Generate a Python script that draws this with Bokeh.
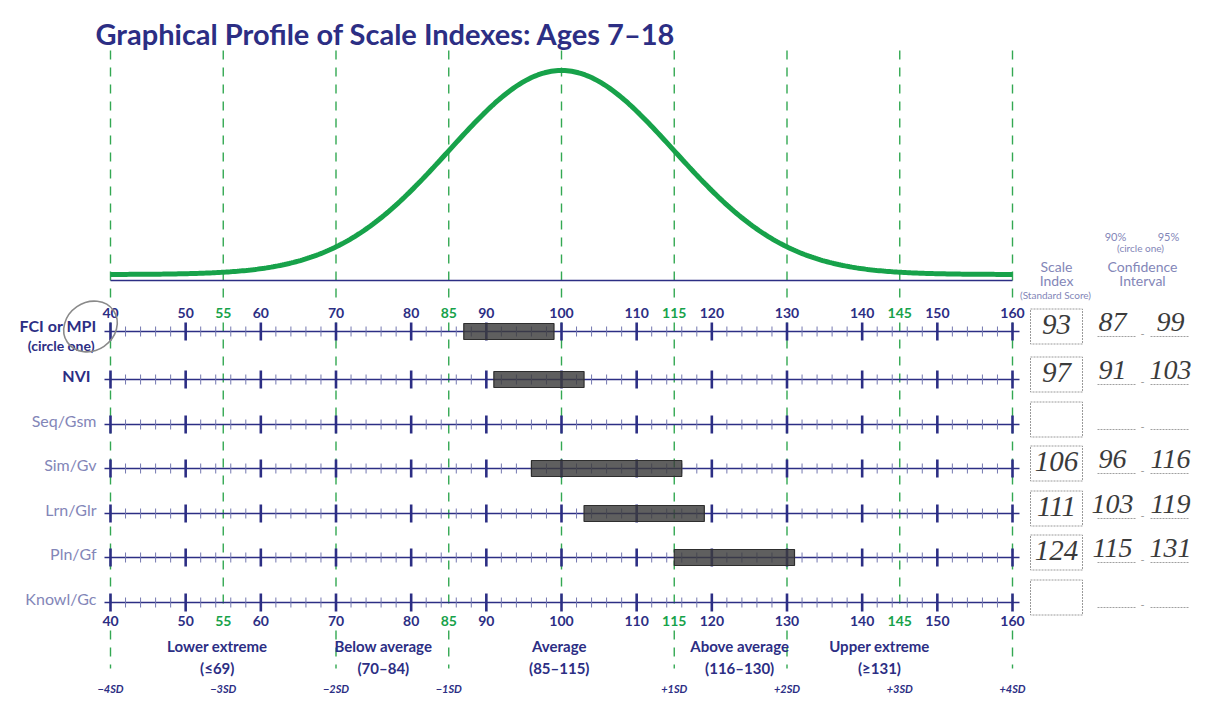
import numpy as np
from bokeh.plotting import figure
from bokeh.models import Range1d
from bokeh.core.properties import value
from bokeh.embed import file_html
from bokeh.resources import INLINE

# ---------------- data ----------------
TITLE = "Graphical Profile of Scale Indexes: Ages 7–18"
SCALES = ["FCI or MPI", "NVI", "Seq/Gsm", "Sim/Gv", "Lrn/Glr", "Pln/Gf", "Knowl/Gc"]
SCALE_INDEX = [93, 97, None, 106, 111, 124, None]
CI_LOW = [87, 91, None, 96, 103, 115, None]
CI_HIGH = [99, 103, None, 116, 119, 131, None]
MAJOR_TICKS = list(range(40, 161, 10))
MINOR_STEP = 2
GREEN_TICKS = [55, 85, 115, 145]
SD_POINTS = [40, 55, 70, 85, 115, 130, 145, 160]
SD_LABELS = ["−4SD", "−3SD", "−2SD", "−1SD", "+1SD", "+2SD", "+3SD", "+4SD"]
CATEGORY_NAMES = ["Lower extreme", "Below average", "Average", "Above average", "Upper extreme"]
CATEGORY_RANGES = ["(≤69)", "(70–84)", "(85–115)", "(116–130)", "(≥131)"]
CATEGORY_BOUNDS = [40, 70, 85, 115, 130, 160]
SCORE_MEAN = 100
SCORE_SD = 15
SCORE_MIN, SCORE_MAX = 40, 160

# ---------------- layout / style ----------------
W, H = 1208, 705
PX40, PX160 = 110, 1012            # page pixel of scores 40 and 160
def sx(px):                        # page pixel -> score units
    return SCORE_MIN + (px - PX40) * (SCORE_MAX - SCORE_MIN) / (PX160 - PX40)

ROW_Y = [331, 379, 424, 468, 513, 557, 602]
CAT_LABEL_X = [54.2, 76.3, 99.7, 123.7, 142.3]
CURVE_BASE_PX, CURVE_PEAK_PX = 274, 70
BASELINE_PX = 280

FONT = "Lato"
NAVY = "#2c2e84"
LIGHT = "#8386b8"
GREEN = "#17a24a"
DASH_GREEN = "#33a852"
HAND = "#3b3b3b"

p = figure(width=W, height=H, output_backend="svg", toolbar_location=None,
           x_range=Range1d(sx(0), sx(W)), y_range=Range1d(H, 0),
           x_axis_location=None, y_axis_location=None, min_border=0)
p.grid.visible = False
p.outline_line_color = None
p.background_fill_color = "white"

span = CURVE_BASE_PX - CURVE_PEAK_PX
p.extra_y_ranges = {"curve": Range1d((CURVE_BASE_PX - H) / span, CURVE_BASE_PX / span)}

def txt(x, y, t, size, color=NAVY, style="normal", align="center", baseline="middle", font=FONT):
    p.text(x=x, y=y, text=t, text_font=value(font), text_font_size=size,
           text_font_style=style, text_color=color, text_align=align, text_baseline=baseline)

# title
txt([sx(95)], [33], [TITLE], "29px", style="bold", align="left")

# dashed green verticals
dash_pos = sorted(SD_POINTS + [SCORE_MEAN])
n = len(dash_pos)
p.segment(x0=dash_pos, x1=dash_pos, y0=[50] * n, y1=[302] * n,
          line_color=DASH_GREEN, line_width=1.4, line_dash="9 8")
p.segment(x0=dash_pos, x1=dash_pos, y0=[322] * n, y1=[611] * n,
          line_color=DASH_GREEN, line_width=1.4, line_dash="9 8")
p.segment(x0=CATEGORY_BOUNDS, x1=CATEGORY_BOUNDS, y0=[630] * 6, y1=[668] * 6,
          line_color=DASH_GREEN, line_width=1.4, line_dash="9 8")

# normal curve of standard scores (mean 100, SD 15)
xs = np.linspace(SCORE_MIN, SCORE_MAX, 400)
rel = np.exp(-0.5 * ((xs - SCORE_MEAN) / SCORE_SD) ** 2)
p.line(xs, rel, y_range_name="curve", line_color=GREEN, line_width=5)
p.segment(x0=[SCORE_MIN], x1=[SCORE_MAX], y0=[BASELINE_PX], y1=[BASELINE_PX],
          line_color=NAVY, line_width=1.5)

# rows
minor = [v for v in range(SCORE_MIN, SCORE_MAX + 1, MINOR_STEP) if v % 10 != 0]
for ry in ROW_Y:
    p.segment(x0=[sx(104)], x1=[sx(1019)], y0=[ry], y1=[ry], line_color=NAVY, line_width=1.6)
    p.segment(x0=minor, x1=minor, y0=[ry - 5] * len(minor), y1=[ry + 5] * len(minor),
              line_color="#7478b0", line_width=1)
    p.segment(x0=MAJOR_TICKS, x1=MAJOR_TICKS, y0=[ry - 9] * len(MAJOR_TICKS),
              y1=[ry + 9] * len(MAJOR_TICKS), line_color=NAVY, line_width=2.6)

# confidence-interval bars
bars = [(ROW_Y[i], CI_LOW[i], CI_HIGH[i]) for i in range(len(SCALES)) if CI_LOW[i] is not None]
p.hbar(y=[b[0] for b in bars], left=[b[1] for b in bars], right=[b[2] for b in bars],
       height=16, fill_color="#3c3c3c", fill_alpha=0.82, line_color="#2e2e2e", line_width=1.2)

# tick numbers (top and bottom)
for ly in (312, 620):
    txt(MAJOR_TICKS, [ly] * len(MAJOR_TICKS), [str(v) for v in MAJOR_TICKS], "14px", style="bold")
    txt(GREEN_TICKS, [ly] * len(GREEN_TICKS), [str(v) for v in GREEN_TICKS], "14px",
        color=GREEN, style="bold")

# row labels
for i, name in enumerate(SCALES):
    if i == 0:
        txt([sx(96)], [ROW_Y[i] - 6], [name], "16px", style="bold", align="right")
        txt([sx(94)], [ROW_Y[i] + 14], ["(circle one)"], "14px", style="bold", align="right")
    elif i == 1:
        txt([sx(90)], [ROW_Y[i] - 4], [name], "16px", style="bold", align="right")
    else:
        txt([sx(96)], [ROW_Y[i] - 4], [name], "16px", color=LIGHT, align="right")

# hand-drawn circle around "40"
p.ellipse(x=[sx(90)], y=[326], width=56, height=48, width_units="screen", height_units="screen",
          angle=0.6, fill_color=None, line_color="#8a8a8a", line_width=1.6)

# category labels
txt(CAT_LABEL_X, [645] * 5, CATEGORY_NAMES, "15px", style="bold")
txt(CAT_LABEL_X, [667] * 5, CATEGORY_RANGES, "15px", style="bold")
txt(SD_POINTS, [688] * len(SD_POINTS), SD_LABELS, "11px", style="bold italic")

# right-hand table headers
txt([sx(1115), sx(1168)], [236, 236], ["90%", "95%"], "11px", color=LIGHT)
txt([sx(1140)], [247], ["(circle one)"], "10px", color=LIGHT)
txt([sx(1056), sx(1056)], [266, 280], ["Scale", "Index"], "14px", color=LIGHT)
txt([sx(1055)], [294], ["(Standard Score)"], "10px", color=LIGHT)
txt([sx(1142), sx(1142)], [266, 280], ["Confidence", "Interval"], "14px", color=LIGHT)

# boxes, handwritten values
p.rect(x=[sx(1056)] * len(ROW_Y), y=[ry - 5 for ry in ROW_Y], width=52, height=35,
       width_units="screen", height_units="screen", fill_color=None,
       line_color="#9a9a9a", line_width=1, line_dash="2 1")
ul_x0 = [sx(1097), sx(1150)]
ul_x1 = [sx(1135), sx(1188)]
for i, ry in enumerate(ROW_Y):
    p.segment(x0=ul_x0, x1=ul_x1, y0=[ry + 5] * 2, y1=[ry + 5] * 2,
              line_color="#a0a0a0", line_width=1, line_dash="2 1")
    txt([sx(1142)], [ry + 2], ["-"], "11px", color="#999999")
    if SCALE_INDEX[i] is not None:
        txt([sx(1056)], [ry - 7], [str(SCALE_INDEX[i])], "29px", color=HAND,
            style="italic", font="Liberation Serif")
    if CI_LOW[i] is not None:
        txt([sx(1112), sx(1170)], [ry - 10, ry - 10], [str(CI_LOW[i]), str(CI_HIGH[i])],
            "28px", color=HAND, style="italic", font="Liberation Serif")

open("out.html", "w").write(file_html(p, INLINE))
